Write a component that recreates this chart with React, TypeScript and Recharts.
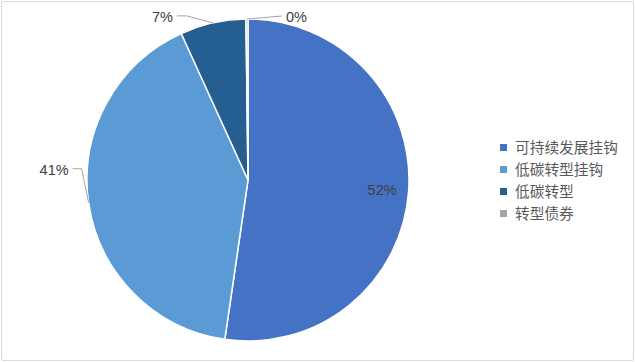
import React from "react";
import { PieChart, Pie, Cell, Legend } from "recharts";

const categories = ["可持续发展挂钩", "低碳转型挂钩", "低碳转型", "转型债券"];
const values = [52.3, 40.9, 6.6, 0.2];
const colors = ["#4472C4", "#5B9BD5", "#255E91", "#A5A5A5"];

const data = categories.map((name, i) => ({ name, value: values[i] }));

// label placement styles (offsets relative to the slice edge point at its mid angle)
const labelStyles = [
  { inside: true, radiusFactor: 0.835 },
  { inside: false, elbow: [-7, -34], tail: -9 },
  { inside: false, elbow: [-26, -7], tail: -10 },
  { inside: false, elbow: [35, -3], tail: 0 },
];

const RAD = Math.PI / 180;
const polar = (cx: number, cy: number, r: number, a: number) => ({
  x: cx + r * Math.cos(-a * RAD),
  y: cy + r * Math.sin(-a * RAD),
});

const renderLabel = (props: any) => {
  const { cx, cy, midAngle, outerRadius, percent, index } = props;
  const text = `${Math.round(percent * 100)}%`;
  const st: any = labelStyles[index];
  const font = { fontFamily: "'Liberation Sans', Arial, sans-serif", fontSize: 14.5, fill: "#404040" };
  if (st.inside) {
    const p = polar(cx, cy, outerRadius * st.radiusFactor, midAngle);
    return (
      <text x={p.x} y={p.y} textAnchor="middle" dominantBaseline="central" {...font}>
        {text}
      </text>
    );
  }
  const e = polar(cx, cy, outerRadius, midAngle);
  const ex = e.x + st.elbow[0];
  const ey = e.y + st.elbow[1];
  const tx = ex + st.tail;
  const leftSide = st.tail < 0 || st.elbow[0] < 0;
  return (
    <g>
      <polyline
        points={`${e.x},${e.y} ${ex},${ey} ${tx},${ey}`}
        fill="none"
        stroke="#A6A6A6"
        strokeWidth={1}
      />
      <text
        x={leftSide ? tx - 4 : tx + 4}
        y={ey + 1}
        textAnchor={leftSide ? "end" : "start"}
        dominantBaseline="central"
        {...font}
      >
        {text}
      </text>
    </g>
  );
};

const renderLegend = () => (
  <div style={{ fontFamily: "'Noto Sans CJK SC', sans-serif", fontSize: 14.7, color: "#595959" }}>
    {categories.map((c, i) => (
      <div key={c} style={{ display: "flex", alignItems: "center", height: 22, whiteSpace: "nowrap" }}>
        <span style={{ width: 7, height: 7, background: colors[i], display: "inline-block", marginRight: 8 }} />
        <span style={{ lineHeight: "22px" }}>{c}</span>
      </div>
    ))}
  </div>
);

export default function App() {
  return (
    <div style={{ position: "absolute", left: 0, top: 0, width: 635, height: 362, background: "#fff" }}>
      <div
        style={{
          position: "absolute",
          left: 1,
          top: 1,
          width: 633,
          height: 360,
          boxSizing: "border-box",
          border: "1px solid #D9D9D9",
          borderRadius: 2,
        }}
      />
      <div style={{ position: "absolute", left: 0, top: 0 }}>
        <PieChart width={635} height={362} margin={{ top: 0, right: 0, bottom: 0, left: 0 }}>
          <Pie
            data={data}
            dataKey="value"
            nameKey="name"
            cx={248}
            cy={180}
            outerRadius={161}
            startAngle={90}
            endAngle={-270}
            stroke="#FFFFFF"
            strokeWidth={1.5}
            label={renderLabel}
            labelLine={false}
            isAnimationActive={false}
          >
            {data.map((d, i) => (
              <Cell key={d.name} fill={colors[i]} />
            ))}
          </Pie>
          <Legend
            layout="vertical"
            align="right"
            verticalAlign="middle"
            content={renderLegend}
            wrapperStyle={{ left: 500, top: 136, right: "auto", width: 130 }}
          />
        </PieChart>
      </div>
    </div>
  );
}
